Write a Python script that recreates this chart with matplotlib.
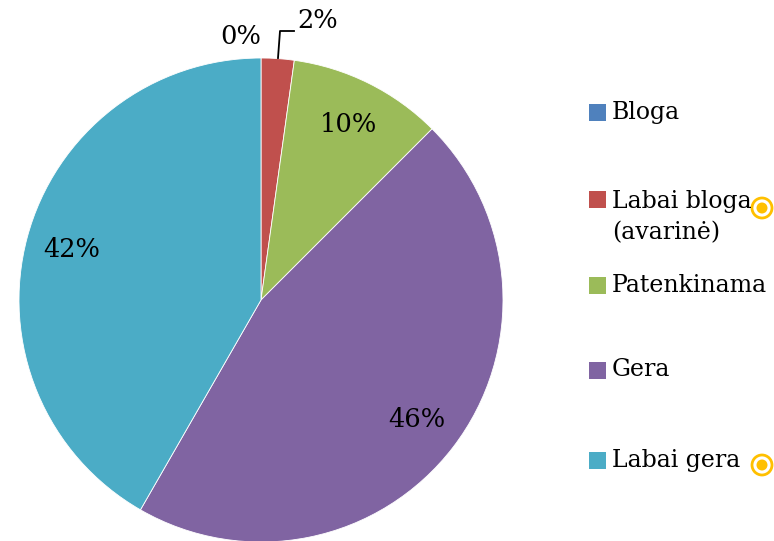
import numpy as np
import matplotlib.pyplot as plt
from matplotlib.patches import Rectangle, Circle

# Pie data (percent shares)
categories = ["Bloga", "Labai bloga\n(avarinė)", "Patenkinama", "Gera", "Labai gera"]
shares = [0.0, 2.2, 10.3, 45.8, 41.7]
pct_labels = ["0%", "2%", "10%", "46%", "42%"]
colors = ["#4F81BD", "#C0504D", "#9BBB59", "#8064A2", "#4BACC6"]

plt.rcParams["font.family"] = ["DejaVu Serif"]

fig = plt.figure(figsize=(7.74, 5.41), dpi=100)
ax = fig.add_axes([0, 0, 1, 1])

cx, cy, r = 261, 241, 242
wedges, _ = ax.pie(
    shares,
    colors=colors,
    startangle=90,
    counterclock=False,
    center=(cx, cy),
    radius=r,
    wedgeprops=dict(edgecolor="white", linewidth=0.6),
    frame=True,
)
ax.set_xlim(0, 774)
ax.set_ylim(0, 541)
ax.axis("off")

# percentage labels inside the slices
for w, lab in zip(wedges[2:], pct_labels[2:]):
    ang = np.deg2rad((w.theta1 + w.theta2) / 2)
    ax.text(cx + 0.81 * r * np.cos(ang), cy + 0.81 * r * np.sin(ang), lab,
            ha="center", va="center", fontsize=18.5)

# small slices labelled outside
ax.text(241, 541 - 36, pct_labels[0], ha="center", va="center", fontsize=18.5)
ax.text(318, 541 - 21, pct_labels[1], ha="center", va="center", fontsize=18.5)
ax.plot([294, 280, 278], [541 - 31, 541 - 31, 541 - 58], color="black", lw=1.3)

# legend
text_y = [112, 217, 285, 370, 460]
box_y = [112, 199, 285, 370, 460]
for lab, col, ty, by in zip(categories, colors, text_y, box_y):
    ax.add_patch(Rectangle((589, 541 - by - 8.5), 17, 17, color=col, lw=0))
    ax.text(612, 541 - ty, lab, ha="left", va="center", fontsize=17,
            linespacing=1.45)

# yellow markers
for (x, y) in [(762, 208), (762, 465)]:
    ax.add_patch(Circle((x, 541 - y), 10, fill=False, edgecolor="#FFC000", lw=2))
    ax.add_patch(Circle((x, 541 - y), 5.5, color="#FFC000", lw=0))

plt.savefig("out.png", dpi=100)
